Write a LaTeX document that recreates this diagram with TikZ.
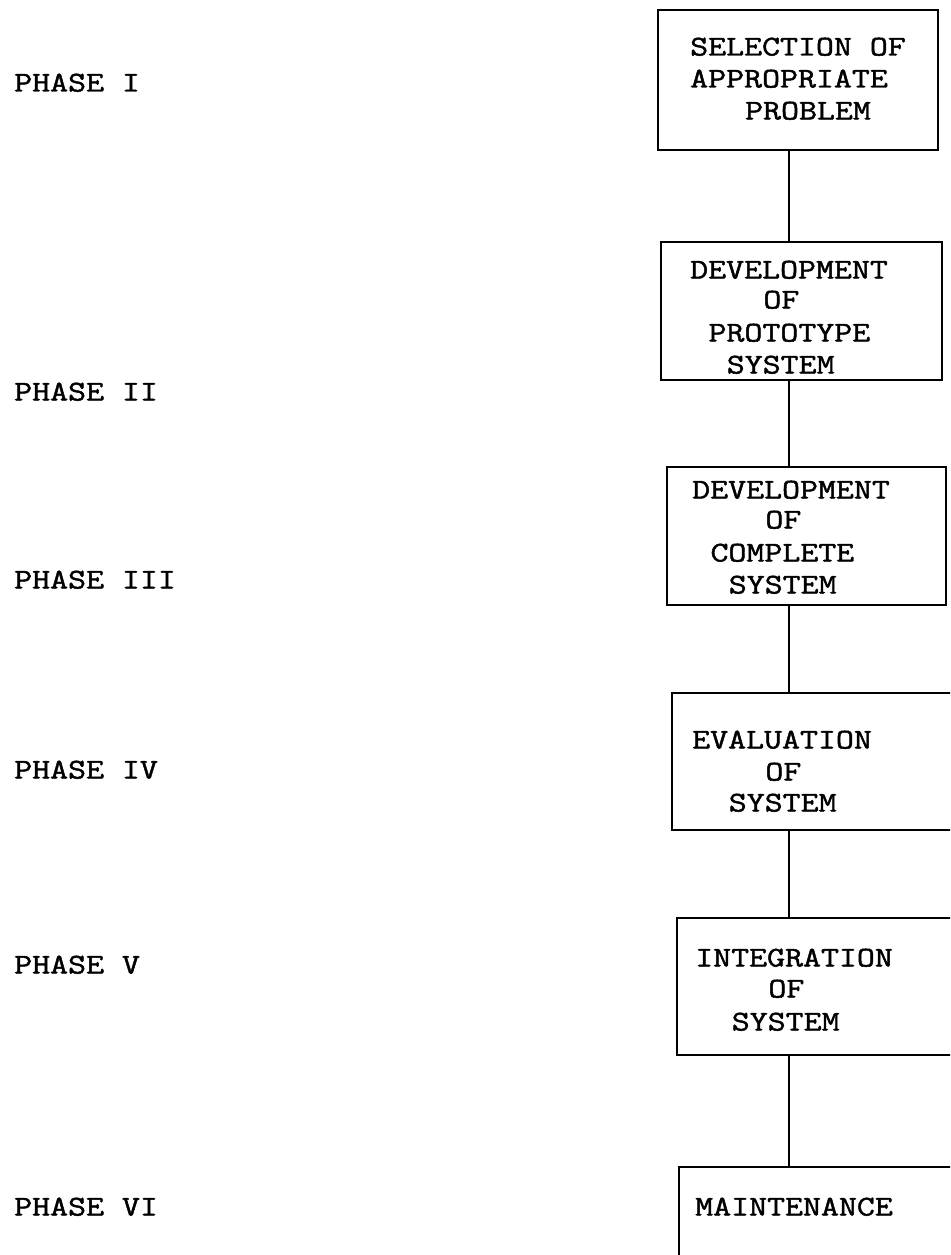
\documentclass[tikz,border=0pt]{standalone}
\usepackage{fontspec}
\newfontfamily\tw[FakeStretch=1.22,FakeBold=1.6]{Latin Modern Mono}
\tikzset{
  boxnode/.style={draw, line width=1.8pt, inner sep=0pt, outer sep=0pt, anchor=north west},
  txt/.style={inner sep=0pt, anchor=west, text height=17pt, text depth=0pt, font=\tw\fontsize{28.6}{32}\selectfont},
  conn/.style={line width=1.8pt},
}
\newcommand{\ch}{18.3}
\begin{document}
\begin{tikzpicture}[x=1pt,y=-1pt]
\useasboundingbox (0,0) rectangle (950,1255);
\clip (0,0) rectangle (950,1255);
% phase labels
\node[txt] (p1) at (14,83) {PHASE I};
\node[txt] (p2) at (14,392) {PHASE II};
\node[txt] (p3) at (14,580) {PHASE III};
\node[txt] (p4) at (14,770) {PHASE IV};
\node[txt] (p5) at (14,965) {PHASE V};
\node[txt] (p6) at (14,1207) {PHASE VI};
% boxes
\node[boxnode, minimum width=280, minimum height=140] (b1) at (658,10) {};
\node[boxnode, minimum width=281, minimum height=138] (b2) at (661,242) {};
\node[boxnode, minimum width=279, minimum height=138] (b3) at (667,467) {};
\node[boxnode, minimum width=300, minimum height=137] (b4) at (672,693) {};
\node[boxnode, minimum width=300, minimum height=137] (b5) at (677,918) {};
\node[boxnode, minimum width=300, minimum height=120] (b6) at (679,1167) {};
% box texts
\node[txt] (t1a) at (690,47) {SELECTION OF};
\node[txt] (t1b) at (690,79) {APPROPRIATE};
\node[txt] (t1c) at (690+3*\ch,111) {PROBLEM};
\node[txt] (t2a) at (690,270) {DEVELOPMENT};
\node[txt] (t2b) at (690+4*\ch,300) {OF};
\node[txt] (t2c) at (690+1*\ch,333) {PROTOTYPE};
\node[txt] (t2d) at (690+2*\ch,365) {SYSTEM};
\node[txt] (t3a) at (692,490) {DEVELOPMENT};
\node[txt] (t3b) at (692+4*\ch,520) {OF};
\node[txt] (t3c) at (692+1*\ch,553) {COMPLETE};
\node[txt] (t3d) at (692+2*\ch,585) {SYSTEM};
\node[txt] (t4a) at (692,740) {EVALUATION};
\node[txt] (t4b) at (692+4*\ch,772) {OF};
\node[txt] (t4c) at (692+2*\ch,803) {SYSTEM};
\node[txt] (t5a) at (695,958) {INTEGRATION};
\node[txt] (t5b) at (695+4*\ch,989) {OF};
\node[txt] (t5c) at (695+2*\ch,1022) {SYSTEM};
\node[txt] (t6a) at (695,1207) {MAINTENANCE};
% connectors
\coordinate (spine) at (789,0);
\draw[conn] (b1.south -| spine) -- (b2.north -| spine);
\draw[conn] (b2.south -| spine) -- (b3.north -| spine);
\draw[conn] (b3.south -| spine) -- (b4.north -| spine);
\draw[conn] (b4.south -| spine) -- (b5.north -| spine);
\draw[conn] (b5.south -| spine) -- (b6.north -| spine);
\end{tikzpicture}
\end{document}
